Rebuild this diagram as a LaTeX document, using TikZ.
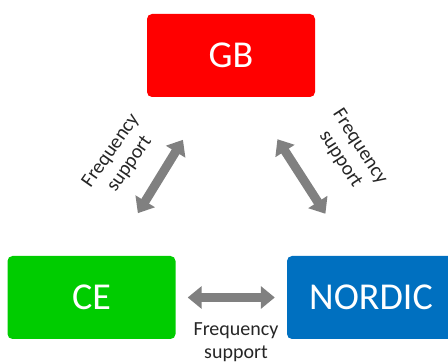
\documentclass[tikz,border=0pt]{standalone}
\usepackage{fontspec}
\setmainfont{Carlito}
\usetikzlibrary{arrows.meta, calc}
\definecolor{gbred}{RGB}{255, 0, 0}
\definecolor{cegreen}{RGB}{0, 204, 0}
\definecolor{nordicblue}{RGB}{0, 112, 192}
\definecolor{linkgray}{RGB}{128, 128, 128}

\begin{document}
\begin{tikzpicture}[x=1pt, y=1pt,
  area/.style={rounded corners=5pt, minimum width=168pt, minimum height=83pt,
    inner sep=0pt, text=white, font=\fontsize{38}{40}\selectfont},
  link/.style={linkgray, line width=9pt,
    {Triangle[width=22pt, length=14pt]}-{Triangle[width=22pt, length=14pt]}},
  lbl/.style={align=center, text=black!85, font=\fontsize{20}{23}\selectfont}]
  \useasboundingbox (0,0) rectangle (448,362);
  \clip (0,0) rectangle (448,362);

  % synchronous areas
  \node[area, fill=gbred] (gb) at (231, 306.5) {GB};
  \node[area, fill=cegreen] (ce) at (91.5, 64.5) {CE};
  \node[area, fill=nordicblue] (nordic) at (371, 64.5) {NORDIC};

  % frequency support links
  \draw[link, shorten <=50pt, shorten >=50pt]
    ($(gb.south west)!0.37!(gb.south east)$) -- ($(ce.north west)!0.62!(ce.north east)$);
  \draw[link, shorten <=50pt, shorten >=50pt]
    ($(gb.south west)!0.615!(gb.south east)$) -- ($(nordic.north west)!0.39!(nordic.north east)$);
  \draw[link, shorten <=12pt, shorten >=12pt] (ce.east) -- (nordic.west);

  % labels
  \node[lbl, rotate=55] (lblce) at (120.5, 204.5) {Frequency\\support};
  \node[lbl, rotate=-57] (lblnordic) at (350, 209) {Frequency\\support};
  \node[lbl] (lblbottom) at (236, 20) {Frequency\\support};
\end{tikzpicture}
\end{document}
